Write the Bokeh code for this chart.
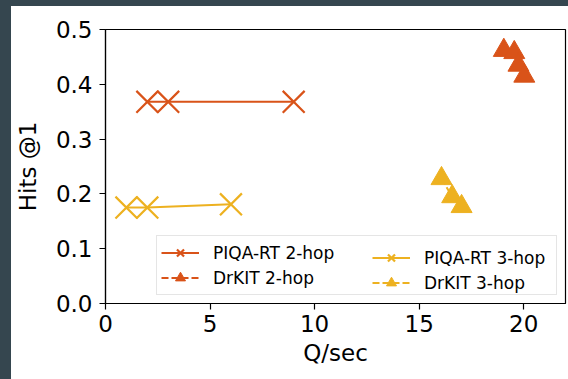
from bokeh.plotting import figure
from bokeh.models import Range1d, Legend, LegendItem, FixedTicker
from bokeh.embed import file_html
from bokeh.resources import INLINE

# ---- data ----
x_ticks = [0, 5, 10, 15, 20]
x_tick_labels = ["0", "5", "10", "15", "20"]
y_ticks = [0.0, 0.1, 0.2, 0.3, 0.4, 0.5]
y_tick_labels = ["0.0", "0.1", "0.2", "0.3", "0.4", "0.5"]

piqa2_x = [2.0, 3.0, 9.0]
piqa2_y = [0.368, 0.368, 0.368]
drkit2_x = [19.05, 19.55, 19.75, 20.03]
drkit2_y = [0.462, 0.458, 0.435, 0.415]
piqa3_x = [1.0, 2.0, 6.0]
piqa3_y = [0.175, 0.175, 0.181]
drkit3_x = [16.07, 16.58, 17.03]
drkit3_y = [0.228, 0.195, 0.177]

labels = ["PIQA-RT 2-hop", "DrKIT 2-hop", "PIQA-RT 3-hop", "DrKIT 3-hop"]

ORANGE = "#d95319"
YELLOW = "#edb120"
DARK = "#35464f"
FONT = "DejaVu Sans"

p = figure(width=557, height=373, output_backend="svg", toolbar_location=None,
           x_range=Range1d(0, 22), y_range=Range1d(0, 0.5),
           min_border_left=91, min_border_right=3, min_border_top=23,
           min_border_bottom=76)
p.margin = (6, 0, 0, 11)
p.styles = {"box-shadow": "-11px -6px 0 12px " + DARK}
p.grid.visible = False
p.outline_line_color = "black"
p.outline_line_width = 1.2
p.outline_line_alpha = 1.0
p.background_fill_color = "white"
p.border_fill_color = "white"

for ax in (p.xaxis[0], p.yaxis[0]):
    ax.axis_line_color = "black"
    ax.axis_line_width = 1.2
    ax.major_tick_line_color = "black"
    ax.major_tick_line_width = 1.2
    ax.major_tick_in = 0
    ax.major_tick_out = 6
    ax.minor_tick_line_color = None
    ax.major_label_text_font = FONT
    ax.major_label_text_font_size = "23px"
    ax.major_label_text_color = "black"
    ax.axis_label_text_font = FONT
    ax.axis_label_text_font_size = "23px"
    ax.axis_label_text_font_style = "normal"
    ax.axis_label_text_color = "black"

p.xaxis.ticker = FixedTicker(ticks=x_ticks)
p.yaxis.ticker = FixedTicker(ticks=y_ticks)
p.xaxis.major_label_overrides = dict(zip(x_ticks, x_tick_labels))
p.yaxis.major_label_overrides = dict(zip(y_ticks, y_tick_labels))
p.xaxis.axis_label = "Q/sec"
p.yaxis.axis_label = "Hits @1"
p.xaxis.major_label_standoff = 5
p.yaxis.major_label_standoff = 7
p.yaxis.axis_label_standoff = 12

l1 = p.line(piqa2_x, piqa2_y, line_color=ORANGE, line_width=2)
s1 = p.scatter(piqa2_x, piqa2_y, marker="x", size=31, line_color=ORANGE, line_width=2.2)
l2 = p.line(drkit2_x, drkit2_y, line_color=ORANGE, line_width=2, line_dash="7 3")
s2 = p.scatter(drkit2_x, drkit2_y, marker="triangle", size=21, fill_color=ORANGE,
               line_color=ORANGE, line_width=1)
l3 = p.line(piqa3_x, piqa3_y, line_color=YELLOW, line_width=2)
s3 = p.scatter(piqa3_x, piqa3_y, marker="x", size=31, line_color=YELLOW, line_width=2.2)
l4 = p.line(drkit3_x, drkit3_y, line_color=YELLOW, line_width=2, line_dash="7 3")
s4 = p.scatter(drkit3_x, drkit3_y, marker="triangle", size=21, fill_color=YELLOW,
               line_color=YELLOW, line_width=1)

common = dict(padding=4, spacing=0, glyph_width=38, glyph_height=25,
              label_standoff=14, label_text_font=FONT, label_text_font_size="17px",
              label_text_color="black", label_height=20)

leg1 = Legend(items=[LegendItem(label=labels[0], renderers=[l1, s1]),
                     LegendItem(label=labels[1], renderers=[l2, s2])],
              location="bottom_right", margin=8, label_width=339,
              border_line_color="#cccccc", border_line_width=1,
              background_fill_color="white", background_fill_alpha=0.85, **common)
leg2 = Legend(items=[LegendItem(label=labels[2], renderers=[l3, s3]),
                     LegendItem(label=labels[3], renderers=[l4, s4])],
              location=(267, 8), border_line_color=None,
              background_fill_alpha=0.0, **common)
p.add_layout(leg1)
p.add_layout(leg2)

open("out.html", "w").write(file_html(p, INLINE))
